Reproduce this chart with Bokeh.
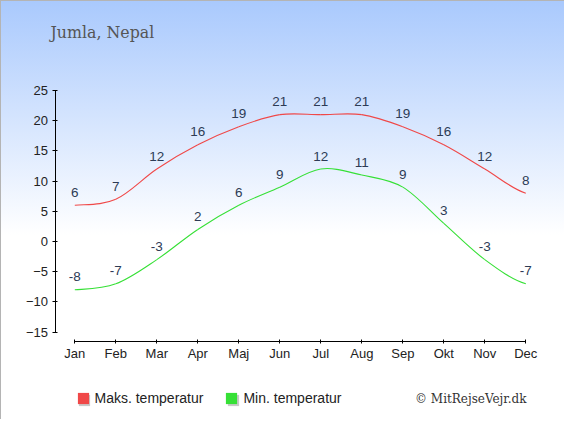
from bokeh.plotting import figure
from bokeh.models import (ColumnDataSource, FixedTicker, Label, Legend, LegendItem, Range1d)
from bokeh.core.properties import value
from bokeh.embed import file_html
from bokeh.resources import INLINE

months = ["Jan", "Feb", "Mar", "Apr", "Maj", "Jun", "Jul", "Aug", "Sep", "Okt", "Nov", "Dec"]
max_temp = [6, 7, 12, 16, 19, 21, 21, 21, 19, 16, 12, 8]
min_temp = [-8, -7, -3, 2, 6, 9, 12, 11, 9, 3, -3, -7]
y_ticks = [-15, -10, -5, 0, 5, 10, 15, 20, 25]
title_text = "Jumla, Nepal"
series_names = ["Maks. temperatur", "Min. temperatur"]
copyright_text = "\u00a9 MitRejseVejr.dk"

RED = "#f04848"
GREEN = "#36e036"
LABEL_COLOR = "#2d3b55"

W, H = 564, 419
PX_X = 41.0      # pixels per month
PX_Y = 6.04      # pixels per degree
X0_PX = 74.3     # pixel of first month
Y25_PX = 90.0    # pixel of 25 degrees

x_start = -X0_PX / PX_X
x_end = (W - X0_PX) / PX_X
y_end = 25 + Y25_PX / PX_Y
y_start = 25 - (H - Y25_PX) / PX_Y

p = figure(width=W, height=H, output_backend="svg", toolbar_location=None,
           x_range=Range1d(x_start, x_end), y_range=Range1d(y_start, y_end),
           min_border=0, min_border_left=0, min_border_right=0,
           min_border_top=0, min_border_bottom=0,
           background_fill_color=None, border_fill_color=None, outline_line_color=None,
           styles={"background": "linear-gradient(to bottom, #a9c9fd 0px, #ffffff 235px)",
                   "box-shadow": "inset 1px 1px 0 #b4b4b4"})
p.xgrid.visible = False
p.ygrid.visible = False


def spline_segments(vals):
    n = len(vals)
    xs = list(range(n))
    seg = dict(x0=[], y0=[], x1=[], y1=[], cx0=[], cy0=[], cx1=[], cy1=[])
    for i in range(n - 1):
        ym = vals[i - 1] if i > 0 else vals[i]
        yp2 = vals[i + 2] if i + 2 < n else vals[i + 1]
        seg["x0"].append(xs[i]); seg["y0"].append(vals[i])
        seg["x1"].append(xs[i + 1]); seg["y1"].append(vals[i + 1])
        seg["cx0"].append(xs[i] + 1 / 3); seg["cy0"].append(vals[i] + (vals[i + 1] - ym) / 6)
        seg["cx1"].append(xs[i + 1] - 1 / 3); seg["cy1"].append(vals[i + 1] - (yp2 - vals[i]) / 6)
    return seg


for vals, col in ((max_temp, RED), (min_temp, GREEN)):
    s = ColumnDataSource(spline_segments(vals))
    p.bezier(x0="x0", y0="y0", x1="x1", y1="y1", cx0="cx0", cy0="cy0", cx1="cx1", cy1="cy1",
             source=s, line_color=col, line_width=1.1)

for vals in (max_temp, min_temp):
    src = ColumnDataSource(dict(x=list(range(len(vals))), y=vals, t=[str(v) for v in vals]))
    p.text(x="x", y="y", text="t", source=src, y_offset=-13, text_align="center",
           text_baseline="middle", text_color=LABEL_COLOR, text_font_size=value("13.5px"),
           text_font=value("Liberation Sans"))

# axes, drawn at fixed positions inside the full-canvas frame
p.xaxis.ticker = FixedTicker(ticks=list(range(len(months))))
p.xaxis.major_label_overrides = {i: m for i, m in enumerate(months)}
p.xaxis.bounds = (0, len(months) - 1)
p.xaxis.fixed_location = 25 - (341 - Y25_PX) / PX_Y
p.yaxis.ticker = FixedTicker(ticks=y_ticks)
p.yaxis.bounds = (min(y_ticks), max(y_ticks))
p.yaxis.fixed_location = (54.5 - X0_PX) / PX_X
for ax in (p.xaxis[0], p.yaxis[0]):
    ax.axis_line_color = "black"
    ax.major_tick_line_color = "black"
    ax.minor_tick_line_color = None
    ax.major_tick_in = 2
    ax.major_tick_out = 2
    ax.major_label_text_font = "Liberation Sans"
    ax.major_label_text_font_size = "13px"
    ax.major_label_text_color = "#222222"
p.xaxis.major_label_standoff = 2
p.yaxis.major_label_standoff = 4
p.yaxis.major_tick_out = 3


# legend proxies: zero-area quads anchored at each series' first value
def proxy(vals, color):
    return p.quad(left=[0], right=[0], top=[vals[0]], bottom=[vals[0]],
                  fill_color=color, line_color=None)


legend_kw = dict(orientation="horizontal", glyph_width=14, glyph_height=14, label_height=14,
                 label_standoff=5, spacing=21, padding=0, margin=0,
                 background_fill_alpha=0, border_line_color=None,
                 label_text_font="Liberation Sans", label_text_font_size="14px")

s_max = proxy(max_temp, "#c8c8c8")
s_min = proxy(min_temp, "#c8c8c8")
shadow = Legend(items=[LegendItem(label=series_names[0], renderers=[s_max]),
                       LegendItem(label=series_names[1], renderers=[s_min])],
                location=(77, 11.5), label_text_alpha=0, **legend_kw)
p.add_layout(shadow, "center")

r_max = proxy(max_temp, RED)
r_min = proxy(min_temp, GREEN)
legend = Legend(items=[LegendItem(label=series_names[0], renderers=[r_max]),
                       LegendItem(label=series_names[1], renderers=[r_min])],
                location=(75.5, 13), label_text_color="#222222", **legend_kw)
p.add_layout(legend, "center")

p.add_layout(Label(x=50, y=H - 32, x_units="screen", y_units="screen", text=title_text,
                   text_font="DejaVu Serif", text_font_size="15.8px", text_color="#555555",
                   text_baseline="middle", text_align="left"))
p.add_layout(Label(x=526, y=H - 398, x_units="screen", y_units="screen", text=copyright_text,
                   text_font="DejaVu Serif", text_font_size="12px", text_color="#333333",
                   text_baseline="middle", text_align="right"))

open("out.html", "w").write(file_html(p, INLINE))
